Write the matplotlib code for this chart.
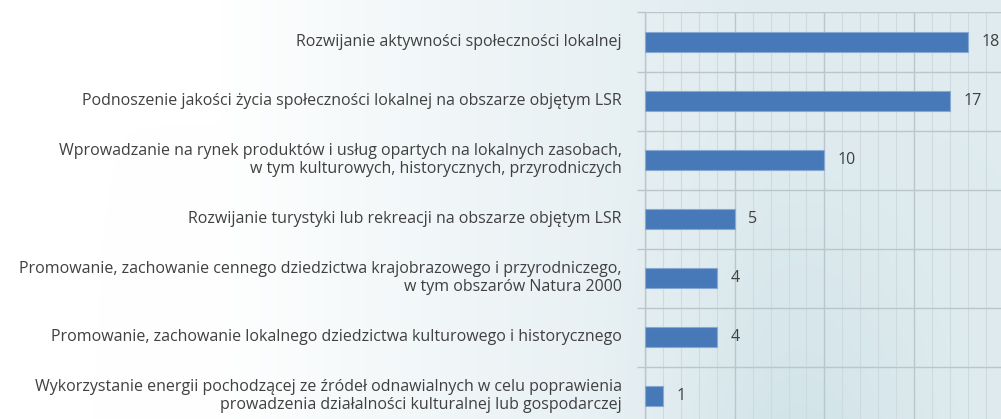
import numpy as np
import matplotlib

matplotlib.use("Agg")
import matplotlib.pyplot as plt
from matplotlib.ticker import MultipleLocator

labels = [
    "Rozwijanie aktywności społeczności lokalnej",
    "Podnoszenie jakości życia społeczności lokalnej na obszarze objętym LSR",
    "Wprowadzanie na rynek produktów i usług opartych na lokalnych zasobach,\n"
    "w tym kulturowych, historycznych, przyrodniczych",
    "Rozwijanie turystyki lub rekreacji na obszarze objętym LSR",
    "Promowanie, zachowanie cennego dziedzictwa krajobrazowego i przyrodniczego,\n"
    "w tym obszarów Natura 2000",
    "Promowanie, zachowanie lokalnego dziedzictwa kulturowego i historycznego",
    "Wykorzystanie energii pochodzącej ze źródeł odnawialnych w celu poprawienia\n"
    "prowadzenia działalności kulturalnej lub gospodarczej",
]
values = [18, 17, 10, 5, 4, 4, 1]

BAR = "#4779b8"
BAR_EDGE = "#86a8d2"
TEXT = "#404040"
MAJOR = "#b9c6cb"
MINOR = "#cfdade"

plt.rcParams.update({
    "font.family": ["Open Sans", "DejaVu Sans"],
    "font.size": 11.5,
})

fig = plt.figure(figsize=(10.01, 4.19), dpi=100)

# background: white on the left fading to pale blue on the right,
# a little deeper toward the bottom of the plot area
bg = fig.add_axes([0, 0, 1, 1], zorder=-10)
xx = np.linspace(0, 1, 500)
yy = np.linspace(0, 1, 250)
X, Y = np.meshgrid(xx, yy)
t = np.clip((X - 0.22) / 0.55, 0, 1) ** 0.9
white = np.array([1.0, 1.0, 1.0])
pale = np.array([0.875, 0.922, 0.937])
deep = np.array([0.79, 0.875, 0.90])
img = white + (pale - white) * t[..., None]
w = 0.55 * np.exp(-((X - 0.80) / 0.12) ** 2) * np.clip(1 - Y / 0.7, 0, 1)
img = img + (deep - img) * w[..., None]
bg.imshow(img, aspect="auto", extent=(0, 1, 0, 1), origin="lower")
bg.set_axis_off()

# axes: left edge at x=645 px, category rows 59 px tall starting at y=12.5
left = 645 / 1001
right_px = 1001 + 3
top = 1 - 12.5 / 419
bottom = 1 - (12.5 + 7 * 59) / 419
ax = fig.add_axes([left, bottom, (right_px - 645) / 1001, top - bottom])
ax.set_facecolor("none")

n = len(values)
pos = np.arange(n)
ax.barh(pos, values, height=0.34, color=BAR, edgecolor=BAR_EDGE,
        linewidth=0.8, zorder=3)
for p, v in zip(pos, values):
    ax.text(v + 0.75, p, str(v), va="center", ha="left",
            fontsize=11.5, color=TEXT, zorder=4)

ax.set_xlim(0, (right_px - 645) / 17.94)
ax.set_ylim(n - 0.5, -0.5)
ax.xaxis.set_major_locator(MultipleLocator(5))
ax.xaxis.set_minor_locator(MultipleLocator(1))
ax.grid(which="major", axis="x", color=MAJOR, linewidth=1.0, zorder=1)
ax.grid(which="minor", axis="x", color=MINOR, linewidth=0.8, zorder=1)
ax.set_xticklabels([])
ax.tick_params(axis="x", which="both", length=0)

# category separators as horizontal lines
ax.set_yticks(np.arange(n + 1) - 0.5)
ax.set_yticklabels([])
ax.tick_params(axis="y", length=6, color=MAJOR, width=1.0)
ax.grid(which="major", axis="y", color=MAJOR, linewidth=1.0, zorder=1)

for s in ("top", "right", "bottom"):
    ax.spines[s].set_visible(False)
ax.spines["left"].set_color(MAJOR)
ax.spines["left"].set_linewidth(1.0)

for p, lab in zip(pos, labels):
    ax.text(-1.3, p, lab, ha="right", va="center", fontsize=11.5,
            color=TEXT, linespacing=1.1, multialignment="right")

fig.savefig("out.png", dpi=100)
